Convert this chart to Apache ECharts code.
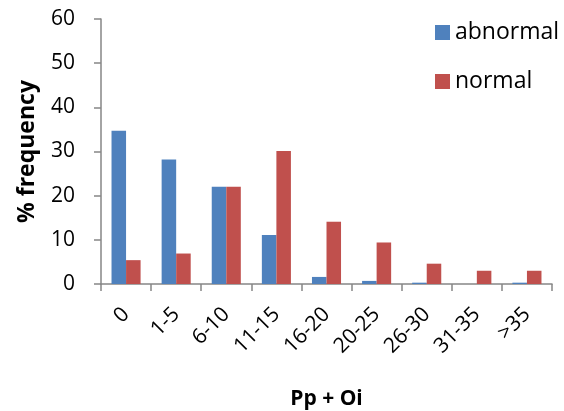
<!DOCTYPE html>
<html>
<head>
<meta charset="utf-8">
<script src="https://cdn.jsdelivr.net/npm/echarts@6/dist/echarts.min.js"></script>
<style>
html, body { margin: 0; padding: 0; background: #fff; }
#main { width: 564px; height: 411px; }
</style>
</head>
<body>
<div id="main"></div>
<script>
// categories of Pp + Oi
var categories = ['0', '1-5', '6-10', '11-15', '16-20', '20-25', '26-30', '31-35', '>35'];
// % frequency
var abnormal = [34.7, 28.2, 22.0, 11.1, 1.6, 0.7, 0.3, 0, 0.3];
var normal = [5.4, 6.9, 22.0, 30.1, 14.1, 9.4, 4.6, 3.0, 3.0];
var yTicks = [0, 10, 20, 30, 40, 50, 60];

var font = '"Open Sans", sans-serif';
var chart = echarts.init(document.getElementById('main'));

chart.setOption({
	animation: false,
	textStyle: { fontFamily: font },
	grid: {
		left: 101,
		right: 12,
		top: 19,
		bottom: 127,
		outerBoundsMode: 'none'
	},
	legend: {
		orient: 'vertical',
		left: 430,
		top: 16,
		itemWidth: 15,
		itemHeight: 15,
		itemGap: 26,
		icon: 'rect',
		textStyle: { fontSize: 23, color: '#000', fontFamily: font, padding: [0, 0, 0, 0] },
		data: ['abnormal', 'normal']
	},
	xAxis: {
		type: 'category',
		data: categories,
		name: 'Pp + Oi',
		nameLocation: 'middle',
		nameGap: 105,
		nameTextStyle: { fontSize: 21, fontWeight: 'bold', color: '#000' },
		axisLine: { lineStyle: { color: '#868686', width: 1.5 } },
		axisTick: { show: true, length: 7, lineStyle: { color: '#868686', width: 1.5 } },
		axisLabel: { rotate: 45, fontSize: 21, color: '#000', margin: 27, interval: 0 }
	},
	yAxis: {
		type: 'value',
		min: yTicks[0],
		max: yTicks[yTicks.length - 1],
		interval: 10,
		name: '% frequency',
		nameLocation: 'middle',
		nameGap: 62,
		nameTextStyle: { fontSize: 23, fontWeight: 'bold', color: '#000' },
		axisLine: { show: true, lineStyle: { color: '#868686', width: 1.5 } },
		axisTick: { show: true, length: 7, lineStyle: { color: '#868686', width: 1.5 } },
		axisLabel: { fontSize: 21, color: '#000', margin: 26 },
		splitLine: { show: false }
	},
	series: [{
			name: 'abnormal',
			type: 'bar',
			data: abnormal,
			barGap: '0%',
			barCategoryGap: '42%',
			itemStyle: { color: '#4f81bd' }
		},
		{
			name: 'normal',
			type: 'bar',
			data: normal,
			itemStyle: { color: '#c0504d' }
		}
	]
});
</script>
</body>
</html>
